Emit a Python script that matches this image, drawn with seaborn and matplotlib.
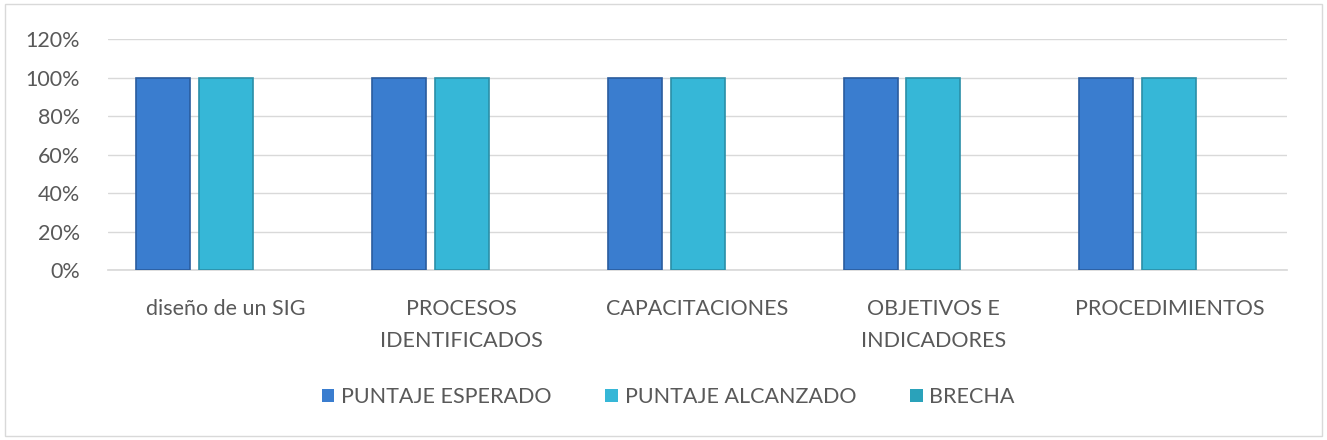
import matplotlib
matplotlib.use("Agg")
import matplotlib.pyplot as plt
import seaborn as sns
import pandas as pd
from matplotlib.patches import Rectangle
from matplotlib.ticker import PercentFormatter

categories = ["diseño de un SIG", "PROCESOS\nIDENTIFICADOS", "CAPACITACIONES",
              "OBJETIVOS E\nINDICADORES", "PROCEDIMIENTOS"]
series = ["PUNTAJE ESPERADO", "PUNTAJE ALCANZADO", "BRECHA"]
esperado = [1.0, 1.0, 1.0, 1.0, 1.0]
alcanzado = [1.0, 1.0, 1.0, 1.0, 1.0]
brecha = [0.0, 0.0, 0.0, 0.0, 0.0]
colors = ["#3A7DCF", "#36B7D7", "#2AA2BA"]
edges = ["#2A5C9E", "#2A8FA8", "#1F7F92"]

df = pd.DataFrame({
    "cat": categories * 3,
    "serie": [s for s in series for _ in categories],
    "val": esperado + alcanzado + brecha,
})

sns.set_theme(style="white")
plt.rcParams["font.family"] = ["Lato", "DejaVu Sans"]

fig = plt.figure(figsize=(13.27, 4.4), dpi=100)
ax = fig.add_axes([0.0814, 0.386, 0.8886, 0.525])
sns.barplot(data=df, x="cat", y="val", hue="serie", palette=colors, saturation=1,
            width=0.8, gap=0.14, ax=ax, legend=True)

for i, cont in enumerate(ax.containers):
    for p in cont.patches:
        if p.get_height() > 0:
            p.set_edgecolor(edges[i])
            p.set_linewidth(1.2)
        else:
            p.set_linewidth(0)
        p.set_zorder(3)

ax.set_ylim(0, 1.2)
ax.set_yticks([0, 0.2, 0.4, 0.6, 0.8, 1.0, 1.2])
ax.yaxis.set_major_formatter(PercentFormatter(1.0, decimals=0))
ax.grid(axis="y", color="#D9D9D9", linewidth=1.0, zorder=0)
ax.set_axisbelow(True)
for s in ["top", "right", "left"]:
    ax.spines[s].set_visible(False)
ax.spines["bottom"].set_color("#D9D9D9")
ax.set_xlabel("")
ax.set_ylabel("")
ax.tick_params(axis="both", length=0, labelsize=15.5, labelcolor="#595959")
ax.tick_params(axis="y", pad=20)
ax.tick_params(axis="x", pad=21)
ax.set_xlim(-0.5, 4.5)
for t in ax.get_xticklabels():
    t.set_linespacing(1.7)

h, l = ax.get_legend_handles_labels()
for hh in h:
    hh.set_linewidth(0)
ax.legend(h, l, loc="center", bbox_to_anchor=(0.475, -0.55), ncol=3, frameon=False,
          fontsize=15.5, labelcolor="#595959", handlelength=0.6, handleheight=0.6,
          columnspacing=2.5, handletextpad=0.3)

fig.patches.append(Rectangle((0.004, 0.01), 0.992, 0.98, transform=fig.transFigure,
                             fill=False, edgecolor="#D9D9D9", linewidth=1.0))
fig.savefig("out.png", dpi=100)
